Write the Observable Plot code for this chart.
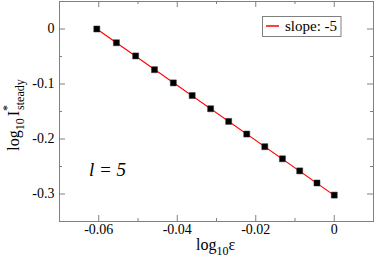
<!DOCTYPE html>
<html>
<head>
<meta charset="utf-8">
<script src="https://cdn.jsdelivr.net/npm/d3@7"></script>
<script src="https://cdn.jsdelivr.net/npm/@observablehq/plot@0.6"></script>
<style>
  html, body { margin: 0; padding: 0; background: #fff; }
  #chart svg { display: block; }
  #chart svg text, #chart svg tspan { font-family: "Liberation Serif", "Times New Roman", serif !important; }
</style>
</head>
<body>
<div id="chart"></div>
<script>
// ---- data ----
const logEps = [-0.0605, -0.0555, -0.0506, -0.0458, -0.0410, -0.0362, -0.0315, -0.0269, -0.0223, -0.0177, -0.0132, -0.0088, -0.0044, 0];
const logI   = [0, -0.025, -0.049, -0.074, -0.098, -0.121, -0.145, -0.168, -0.191, -0.214, -0.236, -0.258, -0.280, -0.302];
const fitX = [-0.0605, 0];
const fitY = [0, -0.3025];
const xMajor = [-0.06, -0.04, -0.02, 0];
const xMinor = [-0.05, -0.03, -0.01];
const yMajor = [0, -0.1, -0.2, -0.3];
const yMinor = [-0.05, -0.15, -0.25];
const legendLabel = "slope: -5";
const annotation = "l = 5";

// ---- layout ----
const W = 374, H = 258;
const mL = 59, mR = 1, mT = 1, mB = 37;
const innerW = W - mL - mR, innerH = H - mT - mB;
const gray = "#808080";
const serif = "Liberation Serif";
const maj = 6, mnr = 3;

const pts = logEps.map((x, i) => ({x, y: logI[i]}));
const fit = fitX.map((x, i) => ({x, y: fitY[i]}));

const plot = Plot.plot({
  width: W, height: H,
  marginLeft: mL, marginRight: mR, marginTop: mT, marginBottom: mB,
  style: {background: "#fff", color: "#000"},
  x: {domain: [-0.07, 0.01]},
  y: {domain: [-0.35, 0.05]},
  marks: [
    Plot.frame({stroke: gray}),
    // inward ticks, all four sides
    Plot.tickX(xMajor, {x: d => d, insetTop: innerH - maj, stroke: gray}),
    Plot.tickX(xMinor, {x: d => d, insetTop: innerH - mnr, stroke: gray}),
    Plot.tickX(xMajor, {x: d => d, insetBottom: innerH - maj, stroke: gray}),
    Plot.tickX(xMinor, {x: d => d, insetBottom: innerH - mnr, stroke: gray}),
    Plot.tickY(yMajor, {y: d => d, insetRight: innerW - maj, stroke: gray}),
    Plot.tickY(yMinor, {y: d => d, insetRight: innerW - mnr, stroke: gray}),
    Plot.tickY(yMajor, {y: d => d, insetLeft: innerW - maj, stroke: gray}),
    Plot.tickY(yMinor, {y: d => d, insetLeft: innerW - mnr, stroke: gray}),
    Plot.axisX({ticks: xMajor, tickSize: 0, tickPadding: 3, fontSize: 14, fontFamily: serif, label: null,
      fill: "#000", tickFormat: d => d === 0 ? "0" : d.toFixed(2)}),
    Plot.axisY({ticks: yMajor, tickSize: 0, tickPadding: 5, fontSize: 14, fontFamily: serif, label: null,
      fill: "#000", tickFormat: d => d === 0 ? "0" : d.toFixed(1)}),
    Plot.line(fit, {x: "x", y: "y", stroke: "#ff0000", strokeWidth: 1.2}),
    Plot.dot(pts, {x: "x", y: "y", symbol: "square", r: 3.4, fill: "#000", stroke: "#333", strokeWidth: 0.5}),
    Plot.text([annotation], {x: () => -0.0625, y: () => -0.2565, text: d => d, textAnchor: "start",
      fontSize: 19, fontStyle: "italic", fontFamily: serif, fill: "#000"})
  ]
});

document.getElementById("chart").appendChild(plot);
const svg = d3.select(plot);
svg.selectAll("text").attr("font-family", serif);

// x-axis label: log10 ε
const xl = svg.append("text").attr("x", 196).attr("y", 250).attr("text-anchor", "start")
  .attr("font-family", serif).attr("font-size", 16).attr("fill", "#000");
xl.append("tspan").text("log");
xl.append("tspan").attr("font-size", 12).attr("dy", 5).text("10");
xl.append("tspan").attr("dy", -5).text("ε");

// y-axis label: log10 I*steady (rotated)
const yl = svg.append("text").attr("transform", "translate(18.5,115) rotate(-90)")
  .attr("text-anchor", "middle")
  .attr("font-family", serif).attr("font-size", 16).attr("fill", "#000");
yl.append("tspan").text("log");
yl.append("tspan").attr("font-size", 12).attr("dy", 5).text("10");
yl.append("tspan").attr("dy", -5).attr("dx", 2).text("I");
yl.append("tspan").attr("font-size", 12).attr("dy", -8).text("*");
yl.append("tspan").attr("font-size", 12).attr("dy", 13).attr("dx", -5).text("steady");

// legend
const lg = svg.append("g");
lg.append("rect").attr("x", 262.5).attr("y", 16.5).attr("width", 78.5).attr("height", 20)
  .attr("fill", "#fff").attr("stroke", gray);
lg.append("line").attr("x1", 266).attr("x2", 279).attr("y1", 26).attr("y2", 26)
  .attr("stroke", "#ff0000").attr("stroke-width", 1.5);
lg.append("text").attr("x", 285).attr("y", 31).attr("text-anchor", "start").attr("font-family", serif)
  .attr("font-size", 15).attr("fill", "#000").text(legendLabel);
</script>
</body>
</html>
